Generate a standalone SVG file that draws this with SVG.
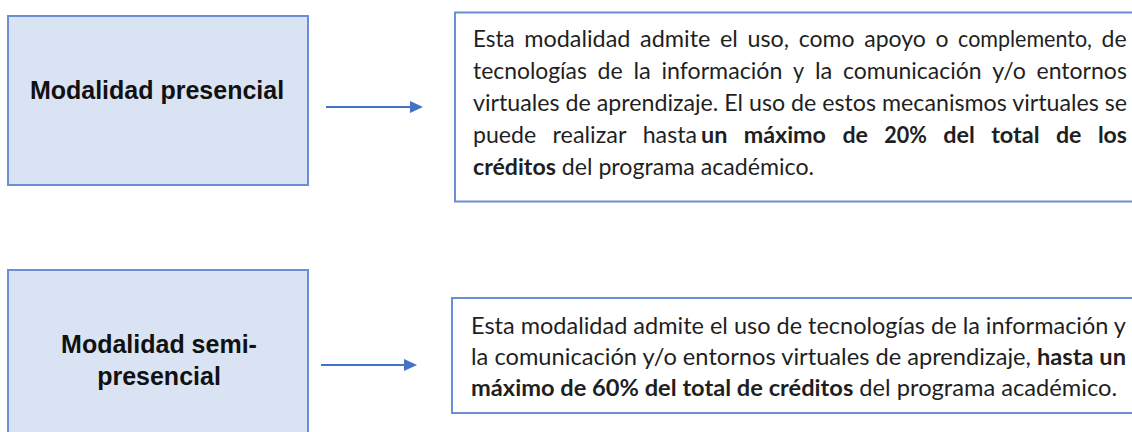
<svg xmlns="http://www.w3.org/2000/svg" width="1132" height="432" viewBox="0 0 1132 432">
<defs>
<style>
.box{fill:#DAE3F3;stroke:#6A8FD6;stroke-width:2}
.tbox{fill:#FFFFFF;stroke:#6A8FD6;stroke-width:2}
.lbl{font-family:"Liberation Sans",Arial,sans-serif;font-weight:bold;font-size:25px;fill:#111111;text-anchor:middle}
.t1{font-family:Lato,"Open Sans",sans-serif;font-size:22.5px;fill:#1f1f1f}
.t2{font-family:Lato,"Open Sans",sans-serif;font-size:23px;fill:#1f1f1f}
.b{font-weight:bold}
.conn{stroke:#4472C4;stroke-width:1.8;fill:none}
</style>
<marker id="ah" markerWidth="13" markerHeight="12" refX="0" refY="6" orient="auto" markerUnits="userSpaceOnUse">
<path d="M0,0 L13,6 L0,12 z" fill="#4472C4"/>
</marker>
</defs>
<rect width="1132" height="432" fill="#FFFFFF"/>

<g id="node-presencial">
<rect class="box" x="8" y="16" width="300" height="169"/>
<text class="lbl" x="157" y="99">Modalidad presencial</text>
</g>

<g id="node-presencial-desc">
<rect class="tbox" x="455" y="12.5" width="700" height="189"/>
<text class="t1" y="47" lengthAdjust="spacingAndGlyphs"><tspan x="473" textLength="41.6" lengthAdjust="spacingAndGlyphs">Esta</tspan><tspan x="524.2" textLength="106.2" lengthAdjust="spacingAndGlyphs">modalidad</tspan><tspan x="640" textLength="70.4" lengthAdjust="spacingAndGlyphs">admite</tspan><tspan x="720" textLength="17.9" lengthAdjust="spacingAndGlyphs">el</tspan><tspan x="747.5" textLength="41.6" lengthAdjust="spacingAndGlyphs">uso,</tspan><tspan x="798.7" textLength="55.9" lengthAdjust="spacingAndGlyphs">como</tspan><tspan x="864.2" textLength="61.7" lengthAdjust="spacingAndGlyphs">apoyo</tspan><tspan x="935.5" textLength="13" lengthAdjust="spacingAndGlyphs">o</tspan><tspan x="958.1" textLength="133.9" lengthAdjust="spacingAndGlyphs">complemento,</tspan><tspan x="1101.6" textLength="25.1" lengthAdjust="spacingAndGlyphs">de</tspan></text>
<text class="t1" y="79"><tspan x="473" textLength="113.9" lengthAdjust="spacingAndGlyphs">tecnologías</tspan><tspan x="597.6" textLength="25.1" lengthAdjust="spacingAndGlyphs">de</tspan><tspan x="633.4" textLength="17.4" lengthAdjust="spacingAndGlyphs">la</tspan><tspan x="661.5" textLength="120.9" lengthAdjust="spacingAndGlyphs">información</tspan><tspan x="793.1" textLength="11.1" lengthAdjust="spacingAndGlyphs">y</tspan><tspan x="814.9" textLength="17.4" lengthAdjust="spacingAndGlyphs">la</tspan><tspan x="843" textLength="138.5" lengthAdjust="spacingAndGlyphs">comunicación</tspan><tspan x="992.2" textLength="33.6" lengthAdjust="spacingAndGlyphs">y/o</tspan><tspan x="1036.5" textLength="90.4" lengthAdjust="spacingAndGlyphs">entornos</tspan></text>
<text class="t1" x="473" y="111" textLength="654" lengthAdjust="spacingAndGlyphs">virtuales de aprendizaje. El uso de estos mecanismos virtuales se</text>
<text class="t1" y="143"><tspan x="473" textLength="63.2" lengthAdjust="spacingAndGlyphs">puede</tspan><tspan x="552.5" textLength="73.9" lengthAdjust="spacingAndGlyphs">realizar</tspan><tspan x="642.7" textLength="54.3" lengthAdjust="spacingAndGlyphs">hasta</tspan><tspan class="b" x="701" textLength="26.4" lengthAdjust="spacingAndGlyphs">un</tspan><tspan class="b" x="743.7" textLength="82.3" lengthAdjust="spacingAndGlyphs">máximo</tspan><tspan class="b" x="842.4" textLength="25.6" lengthAdjust="spacingAndGlyphs">de</tspan><tspan class="b" x="884.3" textLength="42.6" lengthAdjust="spacingAndGlyphs">20%</tspan><tspan class="b" x="943.2" textLength="31.6" lengthAdjust="spacingAndGlyphs">del</tspan><tspan class="b" x="991.2" textLength="48.4" lengthAdjust="spacingAndGlyphs">total</tspan><tspan class="b" x="1055.9" textLength="25.6" lengthAdjust="spacingAndGlyphs">de</tspan><tspan class="b" x="1097.9" textLength="29.1" lengthAdjust="spacingAndGlyphs">los</tspan></text>
<text class="t1" x="473" y="175" textLength="341" lengthAdjust="spacingAndGlyphs"><tspan class="b">créditos</tspan> del programa académico.</text>
</g>

<g id="node-semipresencial">
<rect class="box" x="8" y="270" width="300" height="175"/>
<text class="lbl" x="159" y="353">Modalidad semi-</text>
<text class="lbl" x="159" y="385">presencial</text>
</g>

<g id="node-semipresencial-desc">
<rect class="tbox" x="452" y="298" width="700" height="115"/>
<text class="t2" x="471" y="334" textLength="655" lengthAdjust="spacingAndGlyphs">Esta modalidad admite el uso de tecnologías de la información y</text>
<text class="t2" x="471" y="365" textLength="655" lengthAdjust="spacingAndGlyphs">la comunicación y/o entornos virtuales de aprendizaje, <tspan class="b">hasta un</tspan></text>
<text class="t2" x="471" y="396" textLength="646" lengthAdjust="spacingAndGlyphs"><tspan class="b">máximo de 60% del total de créditos</tspan> del programa académico.</text>
</g>

<g id="connectors">
<line class="conn" x1="326" y1="107" x2="410" y2="107" marker-end="url(#ah)"/>
<line class="conn" x1="321" y1="365" x2="404" y2="365" marker-end="url(#ah)"/>
</g>
</svg>
